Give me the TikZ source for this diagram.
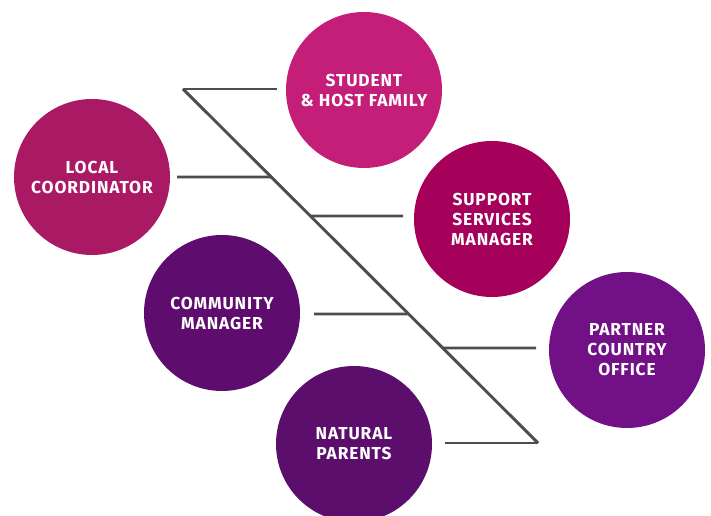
\documentclass[tikz,border=0pt]{standalone}
\usepackage{fontspec}
\setmainfont{Fira Sans}
\newfontfamily\rolefont[LetterSpace=5]{Fira Sans}
\usepackage{tikz}
\usetikzlibrary{calc}

\definecolor{studentpink}{RGB}{196,30,120}
\definecolor{localpink}{RGB}{170,25,100}
\definecolor{supportpink}{RGB}{165,0,90}
\definecolor{communitypurple}{RGB}{94,13,110}
\definecolor{naturalpurple}{RGB}{92,14,108}
\definecolor{partnerpurple}{RGB}{114,16,134}
\definecolor{spinegray}{RGB}{77,77,77}

\begin{document}
\begin{tikzpicture}[
        x=0.75pt, y=-0.75pt,
        role/.style={circle, minimum size=117pt, inner sep=0pt, text=white,
            align=center, font=\rolefont\bfseries\fontsize{13}{15}\selectfont},
        bone/.style={spinegray, line width=2.2pt}
    ]
        \useasboundingbox (0,0) rectangle (711,516);

        % Circles for the roles
        \node[role, fill=studentpink] (student) at (364,90) {STUDENT\\ \& HOST FAMILY};
        \node[role, fill=localpink] (local) at (92,177) {LOCAL\\COORDINATOR};
        \node[role, fill=supportpink] (support) at (492,219) {SUPPORT\\SERVICES\\MANAGER};
        \node[role, fill=communitypurple] (community) at (222,313) {COMMUNITY\\MANAGER};
        \node[role, fill=partnerpurple] (partner) at (627,350) {PARTNER\\COUNTRY\\OFFICE};
        \node[role, fill=naturalpurple] (natural) at (354,444) {NATURAL\\PARENTS};

        % Spine of the diagram
        \coordinate (top) at (183,89);
        \coordinate (bottom) at (538,443);
        \draw[bone] (top) -- (bottom);

        % Branches off the spine
        \coordinate (student-end) at (277,89);
        \coordinate (local-end) at (177,177);
        \coordinate (support-end) at (403,216);
        \coordinate (community-end) at (314,314);
        \coordinate (partner-end) at (536,348);
        \coordinate (natural-end) at (445,443);

        \draw[bone] (top) -- (student-end);
        \draw[bone] ($(top)!{(177-89)/354}!(bottom)$) -- (local-end);
        \draw[bone] ($(top)!{(216-89)/354}!(bottom)$) -- (support-end);
        \draw[bone] ($(top)!{(314-89)/354}!(bottom)$) -- (community-end);
        \draw[bone] ($(top)!{(348-89)/354}!(bottom)$) -- (partner-end);
        \draw[bone] (bottom) -- (natural-end);
    \end{tikzpicture}
\end{document}
